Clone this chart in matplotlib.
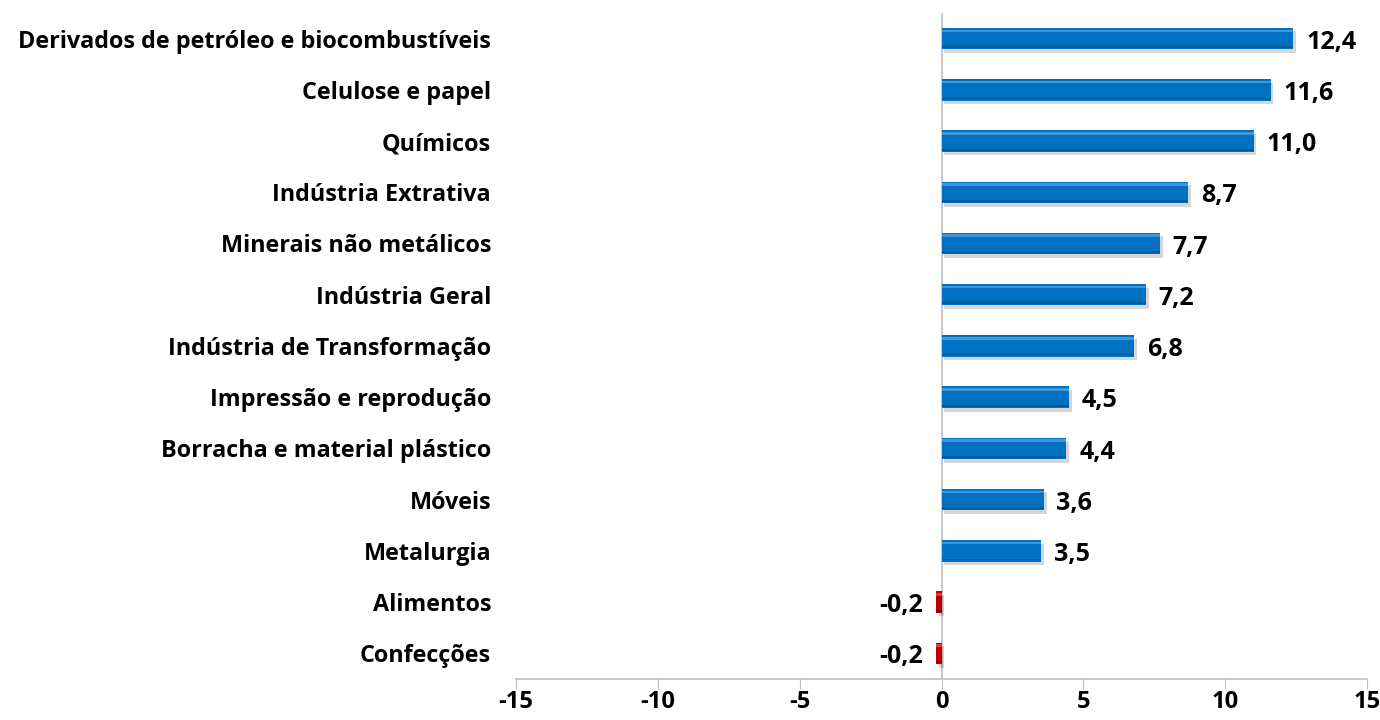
import matplotlib.pyplot as plt
import numpy as np

# setores e variação (%)
setores = [
    "Derivados de petróleo e biocombustíveis",
    "Celulose e papel",
    "Químicos",
    "Indústria Extrativa",
    "Minerais não metálicos",
    "Indústria Geral",
    "Indústria de Transformação",
    "Impressão e reprodução",
    "Borracha e material plástico",
    "Móveis",
    "Metalurgia",
    "Alimentos",
    "Confecções",
]
variacao = [12.4, 11.6, 11.0, 8.7, 7.7, 7.2, 6.8, 4.5, 4.4, 3.6, 3.5, -0.2, -0.2]
ticks_x = [-15, -10, -5, 0, 5, 10, 15]

plt.rcParams['font.family'] = ['Open Sans', 'DejaVu Sans']
plt.rcParams['font.weight'] = 'bold'

fig = plt.figure(figsize=(13.8, 7.2), dpi=100)
ax = fig.add_axes([0.374, 0.057, 0.6166, 0.925])

y = np.arange(len(setores))[::-1]
h = 0.42
cores = ['#0070C0' if v >= 0 else '#C00000' for v in variacao]
claras = ['#3D98E0' if v >= 0 else '#E03A3A' for v in variacao]
escuras = ['#005A9E' if v >= 0 else '#9A0000' for v in variacao]

# sombra, barra, brilho em cima e borda escura embaixo
ax.barh(y - 0.07, variacao, height=h, left=0.1, color='#000000', alpha=0.16, zorder=2)
ax.barh(y, variacao, height=h, color=cores, zorder=3)
ax.barh(y + h * 0.36, variacao, height=h * 0.12, color=claras, zorder=4)
ax.barh(y - h * 0.40, variacao, height=h * 0.08, color=escuras, zorder=4)

for yi, v in zip(y, variacao):
    txt = f"{v:.1f}".replace('.', ',')
    if v >= 0:
        ax.text(v + 0.45, yi - 0.07, txt, va='center', ha='left', fontsize=18, fontweight='bold')
    else:
        ax.text(v - 0.45, yi - 0.07, txt, va='center', ha='right', fontsize=18, fontweight='bold')

ax.set_xlim(-15, 15)
ax.set_ylim(-0.5, len(setores) - 0.5)
ax.set_xticks(ticks_x)
ax.set_xticklabels([str(t) for t in ticks_x], fontsize=17, fontweight='bold')
ax.set_yticks(y)
ax.set_yticklabels(setores, fontsize=16.8, fontweight='bold')
ax.tick_params(axis='y', length=0, pad=18)
ax.tick_params(axis='x', length=7, color='#BFBFBF', pad=1)

ax.axvline(0, color='#BFBFBF', lw=1.2, zorder=1)
for s in ['top', 'right', 'left']:
    ax.spines[s].set_visible(False)
ax.spines['bottom'].set_color('#BFBFBF')
ax.spines['bottom'].set_linewidth(1.2)

fig.savefig('out.png', dpi=100)
